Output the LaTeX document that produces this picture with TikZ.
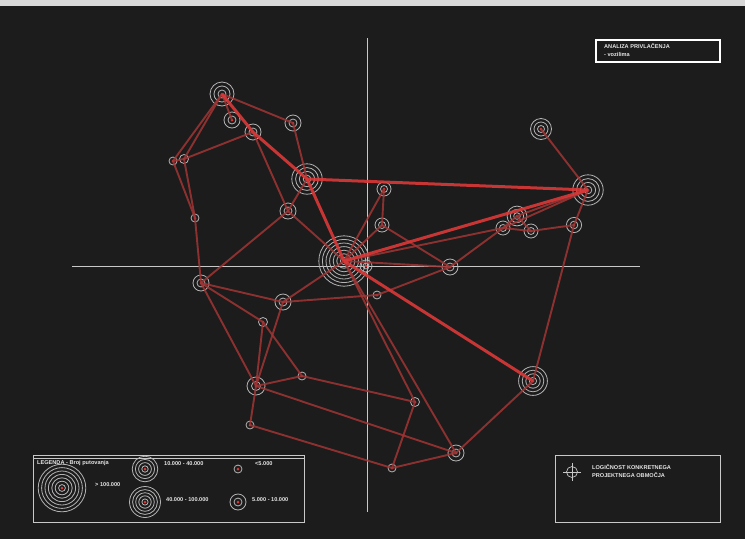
\documentclass[tikz,border=0pt]{standalone}
\usepackage{fontspec}
\setmainfont{Liberation Sans}
\definecolor{bgdark}{HTML}{1C1C1C}
\definecolor{ringgrey}{HTML}{B4B4B4}
\definecolor{linkred}{HTML}{A03434}
\definecolor{mainred}{HTML}{DA3838}
\definecolor{axisgrey}{HTML}{C8C8C8}
\tikzset{
  ring/.style={draw=ringgrey, line width=0.8pt},
  link/.style={draw=linkred, line width=1.9pt},
  mainlink/.style={draw=mainred, line width=3pt},
  frame/.style={draw=axisgrey, line width=0.8pt},
  tag/.style={text=white!90!black, font=\fontsize{5.6}{6}\selectfont\bfseries, inner sep=0pt, anchor=west},
}
% concentric hub: name, position, rings, ring step
\newcommand{\hub}[4]{%
  \coordinate (#1) at (#2);
  \foreach \k in {1,...,#3}
    \draw [ring] (#1) circle ({\k*#4 pt});
  \fill [mainred] (#1) circle (1.5pt);
}
\begin{document}
\begin{tikzpicture}[x=1pt,y=-1pt]
        \useasboundingbox (0,0) rectangle (745,539);
        \fill [bgdark] (0,0) rectangle (745,539);
        \fill [axisgrey!70] (0,0) rectangle (745,6);
        % axis
        \draw [axisgrey, line width=0.9pt] (367,38) -- (367,512);
        \draw [axisgrey, line width=0.9pt] (72,266) -- (640,266);
        % hubs
        \hub{A}{222,94}{3}{4}
        \hub{B}{232,120}{2}{4}
        \hub{C}{253,132}{2}{4}
        \hub{D}{293,123}{2}{4}
        \hub{E}{307,179}{4}{3.8}
        \hub{F}{173,161}{1}{4}
        \hub{G}{184,159}{1}{4.5}
        \hub{H}{195,218}{1}{4}
        \hub{I}{288,211}{2}{4}
        \hub{J}{344,261}{7}{3.6}
        \hub{K}{366,266}{2}{3}
        \hub{L}{384,189}{2}{3.5}
        \hub{M}{382,225}{2}{3.5}
        \hub{N}{450,267}{2}{4}
        \hub{O}{377,295}{1}{4}
        \hub{P}{541,129}{3}{3.5}
        \hub{Q}{588,190}{4}{3.8}
        \hub{Ra}{517,216}{3}{3.3}
        \hub{Rb}{503,228}{2}{3.5}
        \hub{Rc}{531,231}{2}{3.5}
        \hub{S}{574,225}{2}{3.8}
        \hub{T}{201,283}{2}{4}
        \hub{U}{283,302}{2}{4}
        \hub{V}{263,322}{1}{4.5}
        \hub{W}{256,386}{2}{4.5}
        \hub{X}{302,376}{1}{4}
        \hub{Y}{250,425}{1}{4}
        \hub{Z}{533,381}{4}{3.6}
        \hub{AA}{415,402}{1}{4.5}
        \hub{BB}{456,453}{2}{4}
        \hub{CC}{392,468}{1}{4}
        % links
        \foreach \a/\b in {A/B, A/D, A/G, A/F, C/G, C/I, D/E, E/I, F/G, F/H, G/H, H/T,
                           I/T, I/J, T/U, T/V, V/X, T/W, V/W, U/W, U/J, U/O, W/Y, W/X,
                           W/BB, X/AA, Y/CC, AA/CC, J/AA, J/BB, CC/BB, BB/Z, Q/S, S/Z,
                           P/Q, J/L, L/M, J/M, M/N, J/N, N/O, N/Rb, J/Rb, Rb/Rc, Ra/Rb,
                           Ra/Rc, Rc/S, Ra/Q, Rb/Q}
          \draw [link, opacity=0.85] (\a) -- (\b);
        \foreach \a/\b in {A/C, C/E, E/J, E/Q, J/Q, J/Z}
          \draw [mainlink, opacity=0.9] (\a) -- (\b);
        % title box
        \draw [white, line width=2pt] (596,40) rectangle (720,62);
        \node [tag] (title) at (604,46.5) {ANALIZA PRIVLAČENJA};
        \node [tag] (titleb) at (604,54.5) {- vozilima};
        % legend
        \draw [frame] (33,455) rectangle (304,522);
        \draw [frame] (33,458) -- (304,458);
        \node [tag] (legtitle) at (37,463.5) {LEGENDA - Broj putovanja};
        \hub{la}{62,488}{7}{3.4}
        \node [tag] (lta) at (95,485) {> 100.000};
        \hub{lb}{145,469}{4}{3.2}
        \node [tag] (ltb) at (164,464) {10.000 - 40.000};
        \hub{lc}{238,469}{1}{4}
        \node [tag] (ltc) at (255,464) {<5.000};
        \hub{ld}{145,502}{5}{3.1}
        \node [tag] (ltd) at (166,500) {40.000 - 100.000};
        \hub{le}{238,502}{2}{4}
        \node [tag] (lte) at (252,500) {5.000 - 10.000};
        % project area box
        \draw [frame] (555,455) rectangle (720,522);
        \coordinate (mark) at (572,472);
        \draw [axisgrey, line width=0.7pt] (mark) circle (5.5pt);
        \draw [axisgrey, line width=0.7pt] ([xshift=-9pt]mark) -- ([xshift=9pt]mark);
        \draw [axisgrey, line width=0.7pt] ([yshift=-9pt]mark) -- ([yshift=9pt]mark);
        \node [tag] (areaa) at (592,467) {LOGIČNOST KONKRETNEGA};
        \node [tag] (areab) at (592,475) {PROJEKTNEGA OBMOČJA};
\end{tikzpicture}
\end{document}
